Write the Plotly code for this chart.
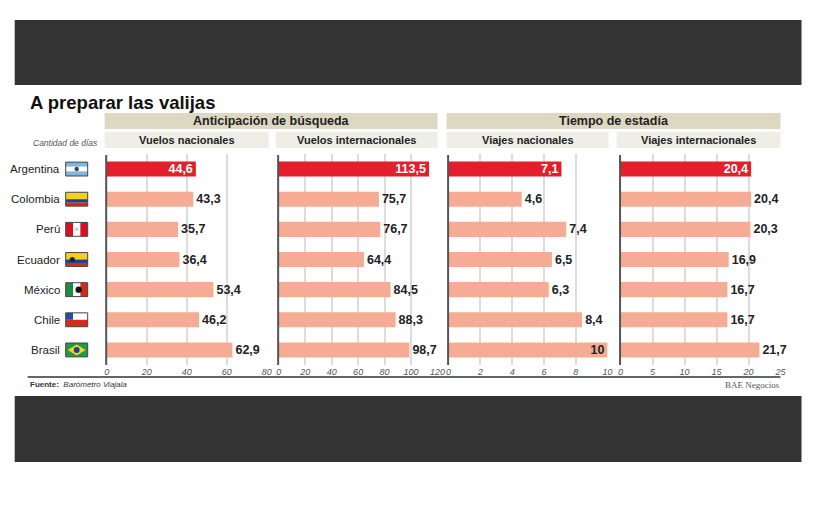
import plotly.graph_objects as go

# datos
paises = ['Argentina', 'Colombia', 'Perú', 'Ecuador', 'México', 'Chile', 'Brasil']
vuelos_nac = [44.6, 43.3, 35.7, 36.4, 53.4, 46.2, 62.9]
vuelos_int = [113.5, 75.7, 76.7, 64.4, 84.5, 88.3, 98.7]
viajes_nac = [7.1, 4.6, 7.4, 6.5, 6.3, 8.4, 10]
viajes_int = [20.4, 20.4, 20.3, 16.9, 16.7, 16.7, 21.7]

titulos = ['Vuelos nacionales', 'Vuelos internacionales', 'Viajes nacionales', 'Viajes internacionales']
grupos = ['Anticipación de búsqueda', 'Tiempo de estadía']
rangos = [80, 120, 10, 25]
pasos = [20, 20, 2, 5]

# page has an 8px body margin; the photo squeezes x a little (measured)
OFF = 8
SX, BX = 0.9866, 2.4
W, H = 806, 488
ROJO = '#e31f2b'
SALMON = '#f6ac94'
FONT = 'Liberation Sans, Arial'


def px_x(x):
    return ((x - BX) / SX - OFF) / W


def px_y(y):
    return 1 - (y - OFF) / H


def fmt(v):
    s = ('%.1f' % v).rstrip('0').rstrip('.')
    return s.replace('.', ',')


# pixel bounds of each panel (window coords)
paneles = [(106, 266), (278, 437), (448, 607), (620, 780)]
y_dom = [px_y(365), px_y(154)]

fig = go.Figure()
series = [vuelos_nac, vuelos_int, viajes_nac, viajes_int]
for i, vals in enumerate(series):
    n = '' if i == 0 else str(i + 1)
    colores = [ROJO] + [SALMON] * (len(vals) - 1)
    pos = []
    tcol = []
    for j, v in enumerate(vals):
        if j == 0:
            pos.append('inside')
            tcol.append('white')
        elif v >= rangos[i] * 0.97:
            pos.append('inside')
            tcol.append('#222')
        else:
            pos.append('outside')
            tcol.append('#222')
    fig.add_trace(go.Bar(
        x=vals, y=paises, orientation='h', marker_color=colores,
        marker_line_width=0, width=0.5,
        text=[fmt(v) for v in vals], textposition=pos, textangle=0,
        insidetextanchor='end', constraintext='none',
        textfont=dict(family=FONT, size=12.5, color=tcol, weight='bold'),
        outsidetextfont=dict(family=FONT, size=12.5, color='#222', weight='bold'),
        cliponaxis=False, showlegend=False, hoverinfo='x+y',
        xaxis='x' + n, yaxis='y' + n,
    ))
    x0, x1 = paneles[i]
    fig.layout['xaxis' + n] = dict(
        domain=[px_x(x0), px_x(x1)], range=[0, rangos[i]],
        tick0=0, dtick=pasos[i], showgrid=True, gridcolor='#dcdcdc', gridwidth=1.5,
        zeroline=False, showline=False, ticks='',
        tickfont=dict(family=FONT, size=9, color='#555', style='italic'),
        anchor='y' + n, fixedrange=True,
    )
    fig.layout['yaxis' + n] = dict(
        domain=y_dom, range=[6.5, -0.5], showticklabels=False, showgrid=False,
        zeroline=False, showline=False, ticks='', anchor='x' + n, fixedrange=True,
    )

shapes = []
ann = []


def texto(t, x, y, size, color='#222', xa='center', yref='paper', family=FONT):
    ann.append(dict(text=t, xref='paper', yref=yref, x=x, y=y, xanchor=xa, yanchor='middle',
                    showarrow=False, font=dict(family=family, size=size, color=color)))


# dark bands top and bottom
for y0, y1 in [(20, 85), (396, 462)]:
    shapes.append(dict(type='rect', xref='paper', yref='paper', x0=px_x(14), x1=px_x(801),
                       y0=px_y(y1), y1=px_y(y0), fillcolor='#333333', line_width=0, layer='below'))

# axis lines at zero
for (x0, x1) in paneles:
    shapes.append(dict(type='line', xref='paper', yref='paper', x0=px_x(x0 - 0.5), x1=px_x(x0 - 0.5),
                       y0=px_y(365), y1=px_y(155), line=dict(color='#555', width=2)))

# bottom rule
shapes.append(dict(type='line', xref='paper', yref='paper', x0=px_x(27), x1=px_x(780),
                   y0=px_y(377), y1=px_y(377), line=dict(color='#333', width=1.5)))

# header bands
for txt, (a, b) in zip(grupos, [(104, 437), (446, 780)]):
    shapes.append(dict(type='rect', xref='paper', yref='paper', x0=px_x(a), x1=px_x(b),
                       y0=px_y(129), y1=px_y(113), fillcolor='#dcd8c1', line_width=0, layer='below'))
    texto('<b>%s</b>' % txt, px_x((a + b) / 2), px_y(121), 12.5)
for txt, (a, b) in zip(titulos, [(104, 268), (275, 437), (446, 608), (616, 780)]):
    shapes.append(dict(type='rect', xref='paper', yref='paper', x0=px_x(a), x1=px_x(b),
                       y0=px_y(148), y1=px_y(132), fillcolor='#eeede6', line_width=0, layer='below'))
    texto('<b>%s</b>' % txt, px_x((a + b) / 2), px_y(140), 11)

# title and notes
texto('<b>A preparar las valijas</b>', px_x(27), px_y(102), 18.5, '#111', 'left')
texto('<i>Cantidad de días</i>', px_x(30), px_y(143), 8.5, '#555', 'left')
texto('<b>Fuente:</b>  <i>Barómetro Viajala</i>', px_x(27), px_y(384), 8, '#333', 'left')
texto('BAE Negocios', px_x(781), px_y(385), 9, '#555', 'right', family='Liberation Serif, Times New Roman')

# country names
for j, p in enumerate(paises):
    texto(p, px_x(61), j, 11.5, '#222', 'right', yref='y')

# flags (simple shapes)
fx0, fx1 = px_x(65), px_x(87)
fw = fx1 - fx0
h = 0.23


def rect(x0, x1, y0, y1, c):
    shapes.append(dict(type='rect', xref='paper', yref='y', x0=x0, x1=x1, y0=y0, y1=y1,
                       fillcolor=c, line_width=0))


def hstripes(j, cols, frac):
    top = j - h
    for c, f in zip(cols, frac):
        rect(fx0, fx1, top, top + 2 * h * f, c)
        top += 2 * h * f


def vstripes(j, cols):
    for k, c in enumerate(cols):
        rect(fx0 + fw * k / 3, fx0 + fw * (k + 1) / 3, j - h, j + h, c)


def dot(j, cx, r, c):
    shapes.append(dict(type='circle', xref='paper', yref='y', x0=cx - r / W, x1=cx + r / W,
                       y0=j - r / 30, y1=j + r / 30, fillcolor=c, line_width=0))


hstripes(0, ['#7fb6e4', 'white', '#7fb6e4'], [1 / 3, 1 / 3, 1 / 3])
dot(0, fx0 + fw / 2, 2.2, '#444')
hstripes(1, ['#f7d117', '#1f3f98', '#d52b1e'], [0.5, 0.25, 0.25])
vstripes(2, ['#d91023', 'white', '#d91023'])
dot(2, fx0 + fw / 2, 2, '#cfcfcf')
hstripes(3, ['#f7d117', '#1f3f98', '#d52b1e'], [0.5, 0.25, 0.25])
dot(3, fx0 + fw * 0.3, 2.6, '#222')
vstripes(4, ['#1e8c45', 'white', '#d52b1e'])
dot(4, fx0 + fw / 2 + 2 / W, 3.2, '#111')
hstripes(5, ['white', '#d52b1e'], [0.5, 0.5])
rect(fx0, fx0 + fw / 3, 5 - h, 5, '#1f4fa8')
hstripes(6, ['#1e9a4a'], [1])
shapes.append(dict(type='path', xref='paper', yref='y',
                   path='M %f,%f L %f,%f L %f,%f L %f,%f Z' % (fx0 + 2 / W, 6, fx0 + fw / 2, 6 - h * 0.8,
                                                               fx1 - 2 / W, 6, fx0 + fw / 2, 6 + h * 0.8),
                   fillcolor='#f5d51c', line_width=0))
dot(6, fx0 + fw / 2, 3, '#1f3f98')
for j in range(len(paises)):
    shapes.append(dict(type='rect', xref='paper', yref='y', x0=fx0, x1=fx1, y0=j - h, y1=j + h,
                       line=dict(color='#444', width=1), fillcolor='rgba(0,0,0,0)'))

fig.update_layout(
    width=W, height=H, margin=dict(l=0, r=0, t=0, b=0),
    paper_bgcolor='white', plot_bgcolor='white',
    shapes=shapes, annotations=ann, bargap=0.5,
    font=dict(family=FONT),
)

fig.write_html('out.html')
